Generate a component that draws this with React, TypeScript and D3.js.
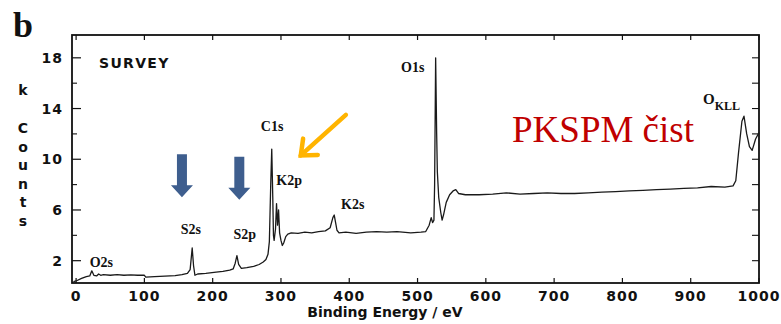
import React from "react";
import * as d3 from "d3";

// survey spectrum: [binding energy eV, k counts]
const surveySpectrum: [number, number][] = [
  [-4, 0.35], [0, 0.4], [8, 0.6], [15, 0.75], [20, 0.8], [23, 1.2], [26, 0.85], [30, 0.8], [33, 0.95],
  [36, 0.85], [40, 0.9], [50, 0.85], [60, 0.9], [70, 0.85], [80, 0.88], [90, 0.85], [100, 0.85],
  [102, 0.7], [115, 0.75], [130, 0.78], [145, 0.82], [155, 0.9], [163, 1.0], [167, 1.3], [170, 3.0],
  [172, 1.6], [174, 0.85], [178, 0.95], [190, 1.0], [205, 1.1], [215, 1.15], [225, 1.25], [230, 1.35],
  [233, 1.8], [235.5, 2.4], [238, 1.7], [242, 1.4], [250, 1.45], [260, 1.55], [268, 1.7], [274, 1.9],
  [278, 2.1], [281, 2.5], [283, 3.5], [285, 8], [286.5, 10.8], [288, 7], [289, 4.0], [290, 3.6],
  [292, 4.5], [293.5, 6.5], [295, 4.8], [296.5, 6.0], [298, 4.2], [300, 3.6], [302, 3.2], [304, 3.4],
  [307, 3.9], [310, 4.1], [315, 4.2], [325, 4.15], [335, 4.25], [345, 4.2], [355, 4.3], [365, 4.35],
  [372, 4.6], [376, 5.4], [378, 5.6], [380, 5.0], [382, 4.4], [385, 4.2], [395, 4.25], [410, 4.15],
  [425, 4.25], [440, 4.3], [455, 4.25], [470, 4.3], [490, 4.2], [505, 4.25], [512, 4.3], [517, 4.8],
  [520, 5.4], [522, 5.0], [524, 5.2], [525, 8], [526.5, 18.0], [528, 12], [529, 9], [531, 7],
  [534, 5.8], [536, 5.2], [538, 5.6], [542, 6.6], [547, 7.2], [552, 7.5], [556, 7.6], [560, 7.3],
  [570, 7.2], [590, 7.2], [610, 7.25], [630, 7.35], [650, 7.25], [670, 7.3], [690, 7.35], [710, 7.3],
  [730, 7.3], [750, 7.35], [770, 7.4], [790, 7.45], [810, 7.5], [830, 7.55], [850, 7.6], [870, 7.65],
  [890, 7.7], [910, 7.75], [930, 7.85], [950, 7.8], [962, 7.9], [966, 8.3], [970, 10.5], [975, 13.0],
  [978, 13.4], [982, 12.0], [986, 11], [990, 10.7], [995, 11.6], [1000, 12.1],
];

const xTicks = [0, 100, 200, 300, 400, 500, 600, 700, 800, 900, 1000];
const yLabelTicks = [2, 6, 10, 14, 18];
const yMinorTicks = [4, 8, 12, 16];
const yRightTicks = [2, 4, 6, 8, 10, 12, 14, 16, 18];

// peak labels: text, energy, counts (baseline)
const peakLabels: [string, number, number][] = [
  ["O2s", 37, 1.5],
  ["S2s", 168, 4.1],
  ["S2p", 247, 3.7],
  ["C1s", 287, 12.2],
  ["K2p", 312, 8.0],
  ["K2s", 405, 6.1],
  ["O1s", 493, 16.9],
];

// blue arrows: energy, top counts, tip counts
const blueArrows: [number, number, number][] = [
  [155, 10.4, 7.0],
  [239, 10.2, 6.8],
];

const W = 781;
const H = 324;

export default function App() {
  const x = d3.scaleLinear().domain([-6, 1000]).range([72, 759]);
  const y = d3.scaleLinear().domain([0.24, 19.8]).range([283, 35]);

  const line = d3
    .line<[number, number]>()
    .x((d) => x(d[0]))
    .y((d) => y(d[1]));

  const axisFont = "'DejaVu Sans', Verdana, sans-serif";
  const peakFont = "'Liberation Serif', 'Times New Roman', serif";

  // orange arrow (tail -> tip)
  const oTail: [number, number] = [x(395), y(13.5)];
  const oTip: [number, number] = [x(329), y(10.3)];
  const ang = Math.atan2(oTail[1] - oTip[1], oTail[0] - oTip[0]);
  const arm = 17;
  const a1 = [oTip[0] + arm * Math.cos(ang + 0.7), oTip[1] + arm * Math.sin(ang + 0.7)];
  const a2 = [oTip[0] + arm * Math.cos(ang - 0.7), oTip[1] + arm * Math.sin(ang - 0.7)];

  const countsLetters = ["C", "o", "u", "n", "t", "s"];

  return (
    <svg
      width={W}
      height={H}
      style={{ position: "absolute", left: 0, top: 0, background: "#fff" }}
    >
      {/* panel letter */}
      <text x={13} y={37} fontFamily={peakFont} fontWeight="bold" fontSize={36} fill="#111">
        b
      </text>

      {/* frame */}
      <rect x={72} y={35} width={687} height={248} fill="none" stroke="#111" strokeWidth={1.8} />

      {/* x ticks */}
      {xTicks.map((t) => (
        <g key={"x" + t}>
          <line x1={x(t)} x2={x(t)} y1={283} y2={278} stroke="#111" strokeWidth={1.2} />
          <line x1={x(t)} x2={x(t)} y1={35} y2={40} stroke="#111" strokeWidth={1.2} />
          <text
            x={x(t)}
            y={301}
            textAnchor="middle"
            fontFamily={axisFont}
            fontWeight="bold"
            fontSize={14}
            letterSpacing={1}
            fill="#111"
          >
            {t}
          </text>
        </g>
      ))}

      {/* y ticks left */}
      {yLabelTicks.map((t) => (
        <g key={"y" + t}>
          <line x1={72} x2={81} y1={y(t)} y2={y(t)} stroke="#111" strokeWidth={1.2} />
          <text
            x={63}
            y={y(t) + 5}
            textAnchor="end"
            fontFamily={axisFont}
            fontWeight="bold"
            fontSize={14}
            letterSpacing={1}
            fill="#111"
          >
            {t}
          </text>
        </g>
      ))}
      {yMinorTicks.map((t) => (
        <line key={"ym" + t} x1={72} x2={77} y1={y(t)} y2={y(t)} stroke="#111" strokeWidth={1.1} />
      ))}
      {yRightTicks.map((t) => (
        <line key={"yr" + t} x1={759} x2={752} y1={y(t)} y2={y(t)} stroke="#111" strokeWidth={1.1} />
      ))}

      {/* y label */}
      <text x={23} y={95} textAnchor="middle" fontFamily={axisFont} fontWeight="bold" fontSize={14} fill="#111">
        k
      </text>
      {countsLetters.map((c, i) => (
        <text
          key={"c" + i}
          x={23}
          y={133 + i * 18.5}
          textAnchor="middle"
          fontFamily={axisFont}
          fontWeight="bold"
          fontSize={14}
          fill="#111"
        >
          {c}
        </text>
      ))}

      {/* x label */}
      <text
        x={385}
        y={317}
        textAnchor="middle"
        fontFamily={axisFont}
        fontWeight="bold"
        fontSize={14}
        fill="#111"
      >
        Binding Energy / eV
      </text>

      <text x={99} y={68} fontFamily={axisFont} fontWeight="bold" fontSize={14} letterSpacing={1.3} fill="#111">
        SURVEY
      </text>

      {/* spectrum */}
      <path d={line(surveySpectrum) ?? ""} fill="none" stroke="#1a1a1a" strokeWidth={1.3} strokeLinejoin="round" />

      {/* peak labels */}
      {peakLabels.map(([txt, e, k]) => (
        <text
          key={txt}
          x={x(e)}
          y={y(k)}
          textAnchor="middle"
          fontFamily={peakFont}
          fontWeight="bold"
          fontSize={14}
          fill="#111"
        >
          {txt}
        </text>
      ))}
      <text x={x(918)} y={y(14.35)} fontFamily={peakFont} fontWeight="bold" fontSize={15} fill="#111">
        O
        <tspan dy={6} fontSize={12}>
          KLL
        </tspan>
      </text>

      {/* blue arrows */}
      {blueArrows.map(([e, top, tip], i) => {
        const cx = x(e);
        const yt = y(top);
        const yp = y(tip);
        const yh = yp - 12;
        const pts = [
          [cx - 5, yt],
          [cx + 5, yt],
          [cx + 5, yh],
          [cx + 11, yh],
          [cx, yp],
          [cx - 11, yh],
          [cx - 5, yh],
        ];
        return <polygon key={"ba" + i} points={pts.map((p) => p.join(",")).join(" ")} fill="#3E5E8E" />;
      })}

      {/* orange arrow */}
      <line x1={oTail[0]} y1={oTail[1]} x2={oTip[0]} y2={oTip[1]} stroke="#FFB400" strokeWidth={4.5} strokeLinecap="round" />
      <polyline
        points={`${a1[0]},${a1[1]} ${oTip[0]},${oTip[1]} ${a2[0]},${a2[1]}`}
        fill="none"
        stroke="#FFB400"
        strokeWidth={4.5}
        strokeLinejoin="miter"
        strokeLinecap="round"
      />

      <text x={512} y={142} fontFamily={peakFont} fontSize={37} fill="#C00000">
        PKSPM čist
      </text>
    </svg>
  );
}
